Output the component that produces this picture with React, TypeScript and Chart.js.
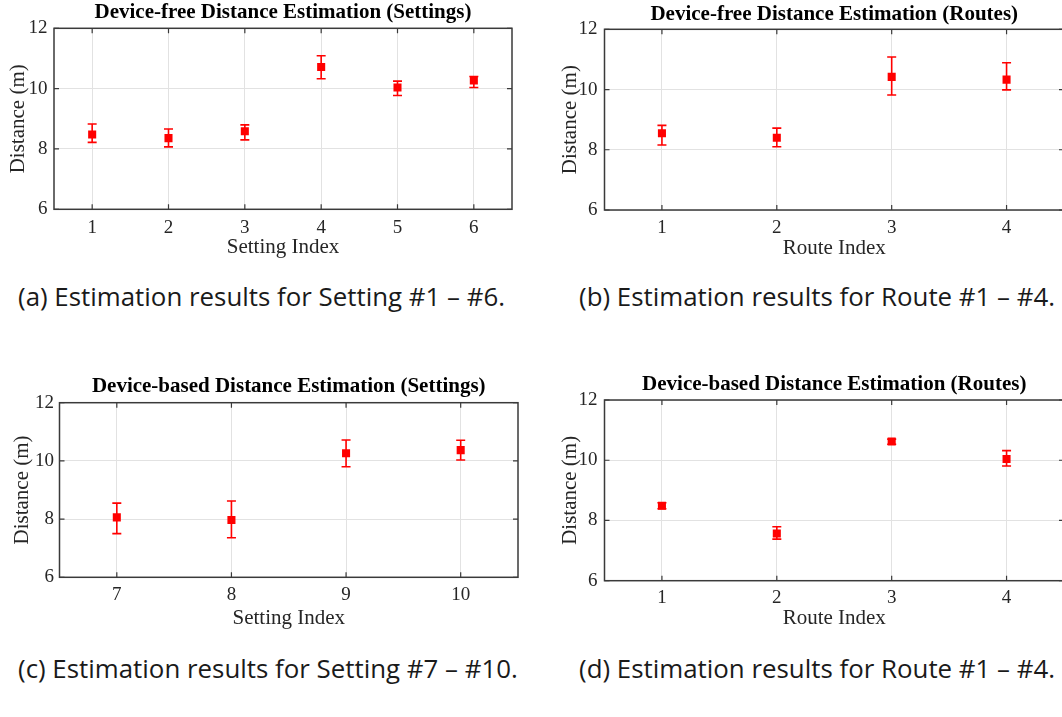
import React, { useEffect, useRef, useState } from 'react';
import { Chart, registerables } from 'chart.js';

Chart.register(...registerables);

// ---------- data ----------
const settingIdxA = [1, 2, 3, 4, 5, 6];
const freeSetMean = [8.48, 8.36, 8.59, 10.72, 10.04, 10.27];
const freeSetLow = [8.22, 8.07, 8.3, 10.33, 9.77, 10.04];
const freeSetHigh = [8.83, 8.66, 8.8, 11.09, 10.25, 10.4];

const routeIdx = [1, 2, 3, 4];
const freeRouteMean = [8.55, 8.4, 10.42, 10.33];
const freeRouteLow = [8.16, 8.1, 9.82, 9.99];
const freeRouteHigh = [8.81, 8.72, 11.08, 10.89];

const settingIdxC = [7, 8, 9, 10];
const basedSetMean = [8.06, 7.97, 10.26, 10.37];
const basedSetLow = [7.5, 7.36, 9.8, 10.03];
const basedSetHigh = [8.55, 8.62, 10.72, 10.71];

const basedRouteMean = [8.49, 7.57, 10.62, 10.04];
const basedRouteLow = [8.39, 7.38, 10.53, 9.81];
const basedRouteHigh = [8.59, 7.79, 10.7, 10.32];

const yTicks = [6, 8, 10, 12];

const titles = [
  'Device-free Distance Estimation (Settings)',
  'Device-free Distance Estimation (Routes)',
  'Device-based Distance Estimation (Settings)',
  'Device-based Distance Estimation (Routes)',
];
const captions = [
  '(a) Estimation results for Setting #1 \u2013 #6.',
  '(b) Estimation results for Route #1 \u2013 #4.',
  '(c) Estimation results for Setting #7 \u2013 #10.',
  '(d) Estimation results for Route #1 \u2013 #4.',
];

const SERIF = '"Liberation Serif", "Times New Roman", serif';
const CAPTION_FONT = '"Open Sans", Lato, sans-serif';

const decorPlugin = {
  id: 'panelDecor',
  beforeDatasetsDraw(chart: any, _args: any, opts: any) {
    const { ctx } = chart;
    const xs = chart.scales.x;
    const ys = chart.scales.y;
    ctx.save();
    ctx.strokeStyle = '#ff0000';
    ctx.lineWidth = 1.6;
    opts.xs.forEach((v: number, i: number) => {
      const px = xs.getPixelForValue(v);
      const pl = ys.getPixelForValue(opts.low[i]);
      const ph = ys.getPixelForValue(opts.high[i]);
      ctx.beginPath();
      ctx.moveTo(px, pl);
      ctx.lineTo(px, ph);
      ctx.moveTo(px - 4.5, pl);
      ctx.lineTo(px + 4.5, pl);
      ctx.moveTo(px - 4.5, ph);
      ctx.lineTo(px + 4.5, ph);
      ctx.stroke();
    });
    ctx.restore();
  },
  afterDraw(chart: any, _args: any, opts: any) {
    const { ctx, chartArea: a } = chart;
    const xs = chart.scales.x;
    const ys = chart.scales.y;
    ctx.save();
    ctx.strokeStyle = '#3a3a3a';
    ctx.lineWidth = 1.5;
    ctx.strokeRect(a.left, a.top, a.right - a.left, a.bottom - a.top);
    ctx.lineWidth = 1.2;
    ctx.beginPath();
    xs.ticks.forEach((t: any) => {
      const px = xs.getPixelForValue(t.value);
      ctx.moveTo(px, a.bottom);
      ctx.lineTo(px, a.bottom - 5);
      ctx.moveTo(px, a.top);
      ctx.lineTo(px, a.top + 5);
    });
    ys.ticks.forEach((t: any) => {
      const py = ys.getPixelForValue(t.value);
      ctx.moveTo(a.left, py);
      ctx.lineTo(a.left + 5, py);
      ctx.moveTo(a.right, py);
      ctx.lineTo(a.right - 5, py);
    });
    ctx.stroke();
    ctx.fillStyle = '#000';
    ctx.font = `bold 21px ${SERIF}`;
    ctx.textAlign = 'center';
    ctx.textBaseline = 'middle';
    ctx.fillText(opts.title, (a.left + a.right) / 2, opts.titleY);
    ctx.restore();
  },
};

type PanelCfg = {
  left: number; top: number; w: number; h: number;
  xs: number[]; mean: number[]; low: number[]; high: number[];
  xmin: number; xmax: number; xLabel: string; title: string; titleY: number;
  yAxisW: number; padRight: number; padTop: number; xAxisH: number;
  xTickPad: number; xTitlePad: number; yTitlePad: number; yTickPad: number;
};

const panels: PanelCfg[] = [
  {
    left: 0, top: 0, w: 531, h: 270,
    xs: settingIdxA, mean: freeSetMean, low: freeSetLow, high: freeSetHigh,
    xmin: 0.5, xmax: 6.5, xLabel: 'Setting Index', title: titles[0], titleY: 13,
    yAxisW: 54, padRight: 19, padTop: 28.3, xAxisH: 60.7,
    xTickPad: 7.3, xTitlePad: 10.4, yTitlePad: 6, yTickPad: 6.5,
  },
  {
    left: 531, top: 0, w: 545, h: 270,
    xs: routeIdx, mean: freeRouteMean, low: freeRouteLow, high: freeRouteHigh,
    xmin: 0.5, xmax: 4.5, xLabel: 'Route Index', title: titles[1], titleY: 15,
    yAxisW: 73.5, padRight: 12, padTop: 29.3, xAxisH: 60,
    xTickPad: 6.6, xTitlePad: 9.1, yTitlePad: 26.4, yTickPad: 7,
  },
  {
    left: 0, top: 360, w: 531, h: 280,
    xs: settingIdxC, mean: basedSetMean, low: basedSetLow, high: basedSetHigh,
    xmin: 6.5, xmax: 10.5, xLabel: 'Setting Index', title: titles[2], titleY: 27,
    yAxisW: 59.5, padRight: 13, padTop: 42.7, xAxisH: 62.7,
    xTickPad: 6.6, xTitlePad: 9.4, yTitlePad: 9.4, yTickPad: 5.5,
  },
  {
    left: 531, top: 360, w: 545, h: 280,
    xs: routeIdx, mean: basedRouteMean, low: basedRouteLow, high: basedRouteHigh,
    xmin: 0.5, xmax: 4.5, xLabel: 'Route Index', title: titles[3], titleY: 25,
    yAxisW: 73.5, padRight: 12, padTop: 40, xAxisH: 59.3,
    xTickPad: 5.9, xTitlePad: 9.4, yTitlePad: 26.4, yTickPad: 7,
  },
];

function Panel({ cfg }: { cfg: PanelCfg }) {
  const ref = useRef<HTMLCanvasElement>(null);
  useEffect(() => {
    if (!ref.current) return;
    const gridColor = '#e2e2e2';
    const tickColor = '#262626';
    const chart = new Chart(ref.current, {
      type: 'scatter',
      data: {
        datasets: [
          {
            data: cfg.xs.map((x, i) => ({ x, y: cfg.mean[i] })),
            pointStyle: 'rect',
            pointRadius: 5.7,
            pointHoverRadius: 5.7,
            backgroundColor: '#ff0000',
            borderColor: '#ff0000',
            borderWidth: 0,
          },
        ],
      },
      options: {
        animation: false,
        responsive: false,
        events: [],
        layout: { padding: { left: 0, right: cfg.padRight, top: cfg.padTop, bottom: 0 } },
        plugins: {
          legend: { display: false },
          tooltip: { enabled: false },
          title: { display: false },
          panelDecor: { xs: cfg.xs, low: cfg.low, high: cfg.high, title: cfg.title, titleY: cfg.titleY },
        } as any,
        scales: {
          x: {
            type: 'linear',
            min: cfg.xmin,
            max: cfg.xmax,
            afterBuildTicks: (s: any) => {
              s.ticks = cfg.xs.map((v) => ({ value: v }));
            },
            afterFit: (s: any) => {
              s.height = cfg.xAxisH;
            },
            grid: { color: gridColor, drawTicks: false, lineWidth: 1 },
            border: { display: false },
            ticks: {
              padding: cfg.xTickPad,
              color: tickColor,
              font: { family: SERIF, size: 19 },
              maxRotation: 0,
              autoSkip: false,
            },
            title: {
              display: true,
              text: cfg.xLabel,
              color: tickColor,
              font: { family: SERIF, size: 21 },
              padding: { top: 0, bottom: cfg.xTitlePad },
            },
          },
          y: {
            type: 'linear',
            min: 6,
            max: 12,
            afterBuildTicks: (s: any) => {
              s.ticks = yTicks.map((v) => ({ value: v }));
            },
            afterFit: (s: any) => {
              s.width = cfg.yAxisW;
            },
            grid: { color: gridColor, drawTicks: false, lineWidth: 1 },
            border: { display: false },
            ticks: {
              padding: cfg.yTickPad,
              color: tickColor,
              font: { family: SERIF, size: 19 },
              autoSkip: false,
            },
            title: {
              display: true,
              text: 'Distance (m)',
              color: tickColor,
              font: { family: SERIF, size: 21 },
              padding: { top: cfg.yTitlePad, bottom: 0 },
            },
          },
        },
      } as any,
      plugins: [decorPlugin as any],
    });
    return () => chart.destroy();
  }, [cfg]);
  return (
    <canvas
      ref={ref}
      width={cfg.w}
      height={cfg.h}
      style={{ position: 'absolute', left: cfg.left, top: cfg.top, width: cfg.w, height: cfg.h }}
    />
  );
}

// caption layout: left x, vertical centre, and target width of caption (a)
const captionPos = [
  { left: 18, cy: 296 },
  { left: 579, cy: 296 },
  { left: 18, cy: 668 },
  { left: 579, cy: 668 },
];
const CAPTION_A_WIDTH = 487;

function computeCaptionSize(): number {
  try {
    const c = document.createElement('canvas').getContext('2d');
    if (!c) return 24;
    c.font = `100px ${CAPTION_FONT}`;
    const w = c.measureText(captions[0]).width;
    if (!w) return 24;
    return Math.max(16, Math.min(30, (CAPTION_A_WIDTH / w) * 100));
  } catch (e) {
    return 24;
  }
}

export default function App() {
  const [capSize] = useState<number>(() => computeCaptionSize());
  return (
    <div
      style={{
        position: 'fixed',
        left: 0,
        top: 0,
        width: 1062,
        height: 717,
        overflow: 'hidden',
        background: '#fff',
      }}
    >
      {panels.map((p, i) => (
        <Panel key={i} cfg={p} />
      ))}
      {captions.map((c, i) => (
        <div
          key={'c' + i}
          style={{
            position: 'absolute',
            left: captionPos[i].left,
            top: captionPos[i].cy - 15,
            height: 30,
            fontFamily: CAPTION_FONT,
            fontSize: capSize,
            lineHeight: '30px',
            color: '#1a1a1a',
            whiteSpace: 'nowrap',
          }}
        >
          {c}
        </div>
      ))}
    </div>
  );
}
